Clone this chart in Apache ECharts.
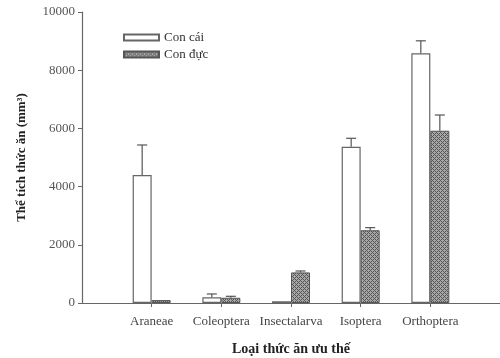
<!DOCTYPE html>
<html>
<head>
<meta charset="utf-8">
<script src="https://cdn.jsdelivr.net/npm/echarts@6/dist/echarts.min.js"></script>
<style>html,body{margin:0;padding:0;background:#fff}#c{width:500px;height:358px}</style>
</head>
<body>
<div id="c"></div>
<script>
// Food categories (the axis gets one blank slot at each end)
const categories = ['Araneae', 'Coleoptera', 'Insectalarva', 'Isoptera', 'Orthoptera'];
const femaleMean = [4400, 200, 60, 5370, 8580];
const femaleErrTop = [5430, 310, 60, 5660, 9010];
const maleMean = [100, 180, 1050, 2500, 5920];
const maleErrTop = [100, 230, 1100, 2590, 6460];
const yTicks = [0, 2000, 4000, 6000, 8000, 10000];

const axisCats = [''].concat(categories, ['']);
const pad = v => [null].concat(v, [null]);

// cross-hatched gray fill for the male bars
function hatch() {
  const c = document.createElement('canvas');
  c.width = 4; c.height = 4;
  const g = c.getContext('2d');
  g.fillStyle = '#a8a8a8';
  g.fillRect(0, 0, 4, 4);
  g.fillStyle = '#555';
  g.fillRect(0, 0, 1, 1); g.fillRect(2, 2, 1, 1);
  g.fillRect(1, 1, 1, 1); g.fillRect(3, 3, 1, 1);
  g.fillRect(3, 1, 1, 1); g.fillRect(1, 3, 1, 1);
  return c;
}

const font = 'Liberation Serif';
const barW = 19;
const offs = 9.5;

function errData(mean, top) {
  return mean.map((m, i) => [i + 1, m, top[i]]);
}
function errRender(dx) {
  return function (params, api) {
    const base = api.coord([api.value(0), api.value(1)]);
    const tip = api.coord([api.value(0), api.value(2)]);
    const x = base[0] + dx;
    if (Math.abs(base[1] - tip[1]) < 0.5) return null;
    const st = { stroke: '#555', lineWidth: 1.2 };
    return {
      type: 'group',
      children: [
        { type: 'line', shape: { x1: x, y1: base[1], x2: x, y2: tip[1] }, style: st },
        { type: 'line', shape: { x1: x - 5, y1: tip[1], x2: x + 5, y2: tip[1] }, style: st }
      ]
    };
  };
}

const chart = echarts.init(document.getElementById('c'));
const tickShown = i => i > 0 && i < axisCats.length - 1;
chart.setOption({
  animation: false,
  textStyle: { fontFamily: font },
  grid: { left: 82, right: 0, top: 12, bottom: 55, outerBoundsMode: 'none' },
  legend: {
    left: 118, top: 26, orient: 'vertical', itemWidth: 35, itemHeight: 6, itemGap: 4,
    icon: 'rect',
    textStyle: { fontFamily: font, fontSize: 13, color: '#333' },
    data: ['Con cái', 'Con đực']
  },
  xAxis: {
    type: 'category', data: axisCats, boundaryGap: false,
    axisLine: { lineStyle: { color: '#666', width: 1.2 } },
    axisTick: { length: 4, interval: tickShown, lineStyle: { color: '#666' } },
    axisLabel: { fontFamily: font, fontSize: 13, color: '#444', margin: 12, interval: 0 },
    name: 'Loại thức ăn ưu thế', nameLocation: 'middle', nameGap: 39,
    nameTextStyle: { fontFamily: font, fontSize: 14, fontWeight: 'bold', color: '#222' }
  },
  yAxis: {
    type: 'value', min: 0, max: 10000, interval: 2000,
    splitLine: { show: false },
    axisLine: { show: true, lineStyle: { color: '#666', width: 1.2 } },
    axisTick: { show: true, length: 4, lineStyle: { color: '#666' } },
    axisLabel: { fontFamily: font, fontSize: 13, color: '#555', margin: 7,
      customValues: yTicks, formatter: v => String(v) },
    name: 'Thể tích thức ăn (mm³)', nameLocation: 'middle', nameGap: 54,
    nameTextStyle: { fontFamily: font, fontSize: 13, fontWeight: 'bold', color: '#222' }
  },
  series: [
    {
      name: 'Con cái', type: 'bar', data: pad(femaleMean), barWidth: barW, barGap: '0%',
      itemStyle: { color: '#fff', borderColor: '#666', borderWidth: 1.2 }
    },
    {
      name: 'Con đực', type: 'bar', data: pad(maleMean), barWidth: barW, barGap: '0%',
      itemStyle: { color: { image: hatch(), repeat: 'repeat' }, borderColor: '#555', borderWidth: 1 }
    },
    {
      type: 'custom', renderItem: errRender(-offs), data: errData(femaleMean, femaleErrTop),
      encode: { x: 0, y: [1, 2] }, z: 3, silent: true
    },
    {
      type: 'custom', renderItem: errRender(offs), data: errData(maleMean, maleErrTop),
      encode: { x: 0, y: [1, 2] }, z: 3, silent: true
    }
  ]
});
</script>
</body>
</html>
